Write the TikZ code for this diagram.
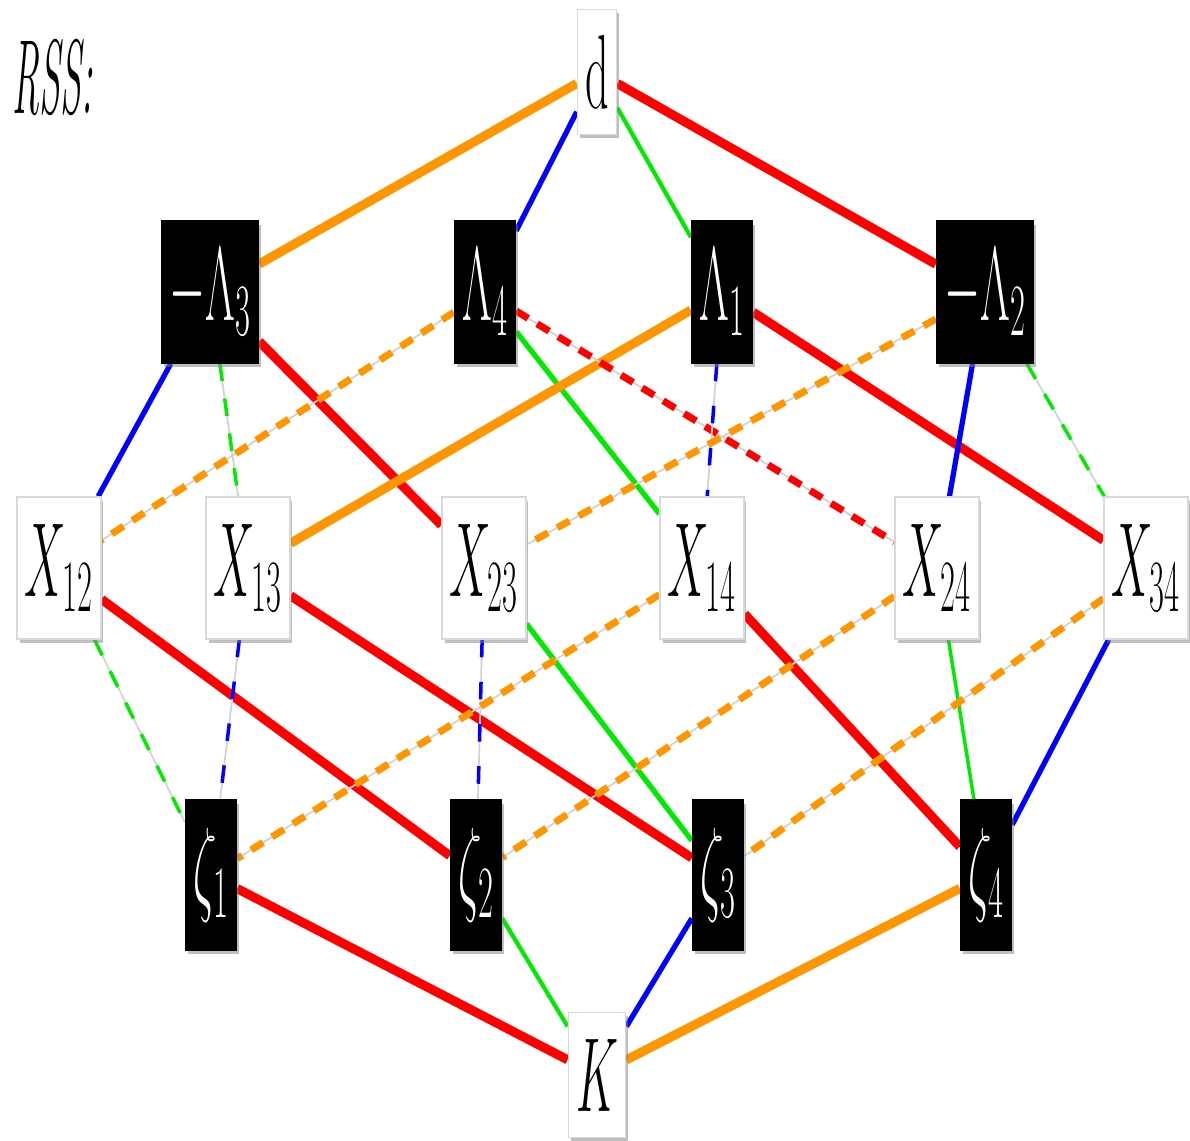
\RequirePackage{fix-cm}
\documentclass[tikz,border=0pt]{standalone}
\usepackage{graphicx,amsmath}
\definecolor{rssred}{RGB}{255,0,0}
\definecolor{rssorange}{RGB}{255,150,0}
\definecolor{rssblue}{RGB}{0,0,255}
\definecolor{rssgreen}{RGB}{0,235,0}
\usetikzlibrary{shadows,backgrounds}
\newcommand{\nlbl}[1]{\scalebox{0.44}[1]{#1}}

\begin{document}
\begin{tikzpicture}[
    wbox/.style={draw=gray!30, fill=white, line width=0.4pt,
                 minimum height=1.42cm, inner xsep=2.2pt, inner ysep=0pt,
                 font=\fontsize{30}{36}\selectfont,
                 drop shadow={shadow xshift=0.7pt, shadow yshift=-1.1pt, opacity=0.5}},
    bbox/.style={wbox, draw=black, fill=black, text=white},
    ered/.style={draw=rssred, line width=2.6pt},
    eorange/.style={draw=rssorange, line width=2.6pt},
    eblue/.style={draw=rssblue, line width=1.5pt},
    egreen/.style={draw=rssgreen, line width=1.2pt},
    dashline/.style={dash pattern=on 4pt off 3pt,
                     preaction={draw=gray!35, line width=0.5pt, solid}},
    dred/.style={ered, line width=2pt, dashline},
    dorange/.style={eorange, line width=2pt, dashline},
    dblue/.style={eblue, line width=1pt, dashline, dash pattern=on 5pt off 7pt},
    dgreen/.style={egreen, line width=1pt, dashline, dash pattern=on 5pt off 5pt}
  ]
    \useasboundingbox (0,0) rectangle (11.9,-11.41);

    % Title
    \node[anchor=west, inner sep=0pt, font=\fontsize{30}{36}\selectfont] (title) at (0.12,-0.78) {\scalebox{0.36}[1]{\textit{RSS:}}};

    % Top and bottom
    \node[wbox, minimum height=1.25cm] (d) at (5.97,-0.72) {\nlbl{d}};
    \node[wbox, minimum height=1.25cm] (K) at (5.97,-10.75) {\nlbl{$K$}};

    % Row 1: Lambdas
    \node[bbox] (nL3) at (2.10,-2.92) {\nlbl{$-\Lambda_3$}};
    \node[bbox] (nL4) at (4.85,-2.92) {\nlbl{$\Lambda_4$}};
    \node[bbox] (nL1) at (7.22,-2.92) {\nlbl{$\Lambda_1$}};
    \node[bbox] (nL2) at (9.85,-2.92) {\nlbl{$-\Lambda_2$}};

    % Row 2: X's
    \node[wbox] (X12) at (0.59,-5.68) {\nlbl{$X_{12}$}};
    \node[wbox] (X13) at (2.48,-5.68) {\nlbl{$X_{13}$}};
    \node[wbox] (X23) at (4.84,-5.68) {\nlbl{$X_{23}$}};
    \node[wbox] (X14) at (7.02,-5.68) {\nlbl{$X_{14}$}};
    \node[wbox] (X24) at (9.37,-5.68) {\nlbl{$X_{24}$}};
    \node[wbox] (X34) at (11.46,-5.68) {\nlbl{$X_{34}$}};

    % Row 3: zetas
    \node[bbox, minimum height=1.5cm] (z1) at (2.11,-8.75) {\nlbl{$\zeta_1$}};
    \node[bbox, minimum height=1.5cm] (z2) at (4.76,-8.75) {\nlbl{$\zeta_2$}};
    \node[bbox, minimum height=1.5cm] (z3) at (7.18,-8.75) {\nlbl{$\zeta_3$}};
    \node[bbox, minimum height=1.5cm] (z4) at (9.86,-8.75) {\nlbl{$\zeta_4$}};

    \begin{scope}[on background layer]
      % d to row 1
      \draw[eorange] (d) -- (nL3);
      \draw[eblue] (d) -- (nL4);
      \draw[egreen] (d) -- (nL1);
      \draw[ered] (d) -- (nL2);

      % row 1 to row 2
      \draw[eblue] (nL3) -- (X12);
      \draw[ered] (nL3) -- (X23);
      \draw[egreen, line width=1.5pt] (nL4) -- (X14);
      \draw[eorange] (nL1) -- (X13);
      \draw[ered] (nL1) -- (X34);
      \draw[eblue] (nL2) -- (X24);

      % row 2 to row 3
      \draw[ered] (X12) -- (z2);
      \draw[ered] (X13) -- (z3);
      \draw[egreen, line width=1.5pt] (X23) -- (z3);
      \draw[ered] (X14) -- (z4);
      \draw[egreen, line width=1pt] (X24) -- (z4);
      \draw[eblue] (X34) -- (z4);

      % row 3 to K
      \draw[ered] (z1) -- (K);
      \draw[egreen] (z2) -- (K);
      \draw[eblue] (z3) -- (K);
      \draw[eorange] (z4) -- (K);

      % dashed links
      \draw[dgreen] (nL3) -- (X13);
      \draw[dorange] (nL4) -- (X12);
      \draw[dred] (nL4) -- (X24);
      \draw[dblue] (nL1) -- (X14);
      \draw[dorange] (nL2) -- (X23);
      \draw[dgreen] (nL2) -- (X34);
      \draw[dgreen] (X12) -- (z1);
      \draw[dblue] (X13) -- (z1);
      \draw[dblue] (X23) -- (z2);
      \draw[dorange] (X14) -- (z1);
      \draw[dorange] (X24) -- (z2);
      \draw[dorange] (X34) -- (z3);
    \end{scope}
\end{tikzpicture}
\end{document}
